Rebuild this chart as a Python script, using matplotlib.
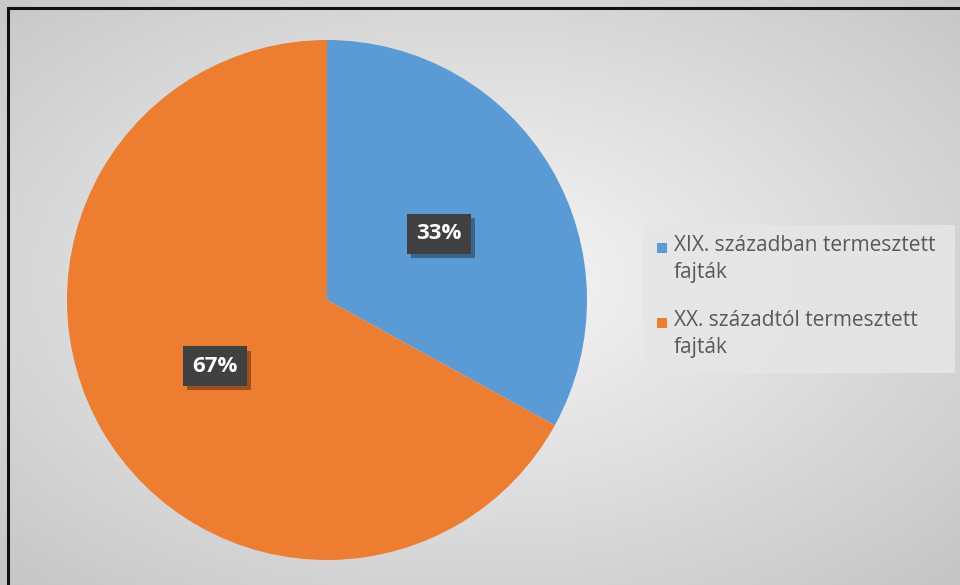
import matplotlib
matplotlib.use("Agg")
import matplotlib.pyplot as plt
import matplotlib.patheffects as pe
from matplotlib.patches import Rectangle
import numpy as np

# Data
categories = ["XIX. században termesztett\nfajták", "XX. századtól termesztett\nfajták"]
shares = [33, 67]
colors = ["#5B9BD5", "#ED7D31"]

W, H = 960, 585
fig = plt.figure(figsize=(W / 100, H / 100), dpi=100)

# radial gradient background
bg = fig.add_axes([0, 0, 1, 1], zorder=-5)
yy, xx = np.mgrid[0:H, 0:W]
cx, cy = 470, 280
r = np.sqrt(((xx - cx) / W) ** 2 + ((yy - cy) / H) ** 2) / 0.7
r = np.clip(r, 0, 1)
shade = 0.97 - 0.19 * r
bg.imshow(np.dstack([shade, shade, shade]), extent=(0, W, H, 0), aspect="auto")
bg.set_xlim(0, W)
bg.set_ylim(H, 0)
bg.axis("off")

# frame border
fig.patches.append(Rectangle((8 / W, -0.05), 1.1, (H - 8) / H + 0.05, transform=fig.transFigure,
                             fill=False, edgecolor="#111111", linewidth=2.2, zorder=10))

# pie
pcx, pcy, rad = 327, 300, 260
ax = fig.add_axes([(pcx - rad) / W, (H - pcy - rad) / H, 2 * rad / W, 2 * rad / H])
ax.set_facecolor("none")
wedges, _ = ax.pie(shares, colors=colors, startangle=90, counterclock=False, radius=1,
                   wedgeprops=dict(linewidth=0))
ax.set_xlim(-1, 1)
ax.set_ylim(-1, 1)
ax.axis("off")

# data labels
angle = 90.0
for val in shares:
    theta = np.deg2rad(angle - val / 100 * 360 / 2)
    angle -= val / 100 * 360
    x, y = 0.5 * np.cos(theta), 0.5 * np.sin(theta)
    t = ax.text(x, y, f"{val}%", ha="center", va="center", fontsize=16, fontweight="bold",
                color="white", family="Open Sans",
                bbox=dict(boxstyle="square,pad=0.42", facecolor="#404040", edgecolor="none"))
    t.get_bbox_patch().set_path_effects(
        [pe.SimplePatchShadow(offset=(3, -3), shadow_rgbFace="black", alpha=0.35), pe.Normal()])

# legend
fig.patches.append(Rectangle((643 / W, 1 - 373 / H), (955 - 643) / W, (373 - 225) / H,
                             transform=fig.transFigure, facecolor="#e6e6e6", edgecolor="none",
                             alpha=0.85, zorder=1))
for i, (lab, col) in enumerate(zip(categories, colors)):
    ytop = 243 + i * 75
    fig.patches.append(Rectangle((657 / W, 1 - (ytop + 10) / H), 10 / W, 10 / H,
                                 transform=fig.transFigure, facecolor=col, edgecolor="none", zorder=2))
    fig.text(674 / W, 1 - (ytop - 8) / H, lab, ha="left", va="top", fontsize=15,
             color="#595959", family="Open Sans", linespacing=1.4, zorder=3)

fig.savefig("out.png", dpi=100)
